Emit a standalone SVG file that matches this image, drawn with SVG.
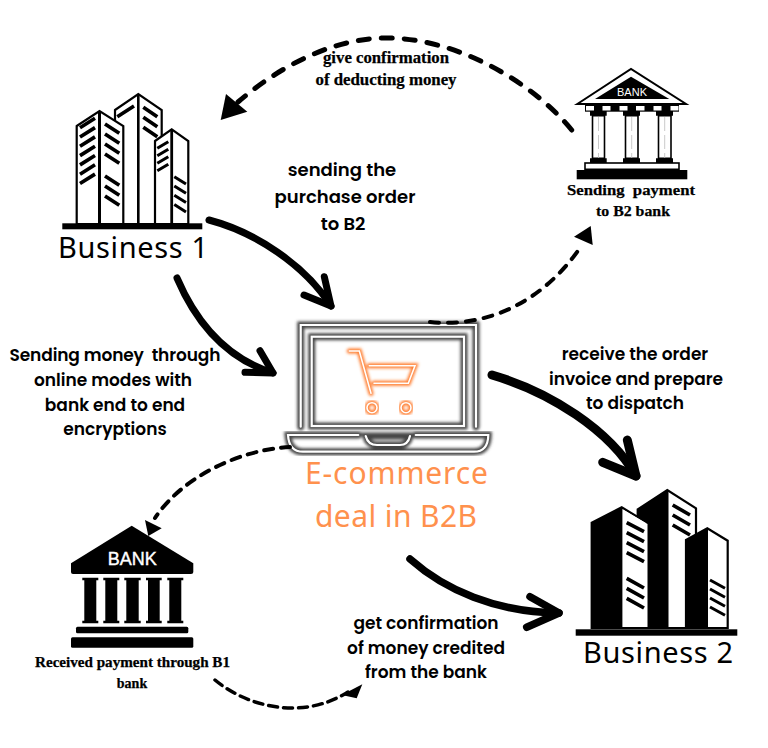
<svg xmlns="http://www.w3.org/2000/svg" width="768" height="748" viewBox="0 0 768 748">
<style>
.bg{fill:#fff}
.k{fill:#000}
.tw{fill:#fff;stroke:#000;stroke-width:2.2;stroke-linejoin:miter}
.win{fill:none;stroke:#000;stroke-width:3.7}
.win2{fill:none;stroke:#000;stroke-width:3}
.lbl{font-family:"Poppins","Inter","Liberation Sans",sans-serif;font-weight:600;font-size:17px;fill:#000;text-anchor:middle}
.lbl2{font-size:18px}
.ser{font-family:"Liberation Serif",serif;font-weight:700;fill:#000;stroke:#000;stroke-width:.25;text-anchor:middle}
.big{font-family:"Noto Sans","Open Sans",sans-serif;font-weight:400;font-size:29px;fill:#000;text-anchor:middle}
.org{fill:#ff914d;font-size:30px}
.cs{fill:none;stroke:#000;stroke-linecap:round;stroke-linejoin:round}
.glow{fill:none;stroke:#444;stroke-width:7;stroke-linecap:round;filter:url(#blur)}
.neon{fill:none;stroke:#fff;stroke-width:2.2;stroke-linecap:round}
.glowo{fill:none;stroke:#ff7a2a;stroke-width:5;stroke-linecap:round;filter:url(#blur)}
.neono{fill:none;stroke:#fff;stroke-width:1.6;stroke-linecap:round}
</style>
<defs>
<filter id="blur" x="-20%" y="-20%" width="140%" height="140%"><feGaussianBlur stdDeviation="1.5"/></filter>
</defs>
<rect class="bg" width="768" height="748"/>

<g id="business1">
<path class="tw" d="M115,110 L138.3,94 L161.7,110 V224 H115 Z"/>
<path class="k" d="M137,95 h2.6 V224 h-2.6 Z"/>
<path class="tw" d="M76.7,126 L99.5,111 L123.3,126 V224 H76.7 Z"/>
<path class="k" d="M98,111 h3 V224 h-3 Z"/>
<path class="tw" d="M155,141 L171.7,129.3 L188.3,141 V224 H155 Z"/>
<path class="k" d="M170.3,130 h2.8 V224 h-2.8 Z"/>
<path class="win" d="M80,127.7 L95,118.3 M80,137 L95,127.6 M80,146.3 L95,136.9 M80,155.6 L95,146.2 M80,164.9 L95,155.5 M80,174.2 L95,164.8 M80,183.5 L95,174.1"/>
<path class="win" d="M105,124 L119.3,133.3 M105,134 L119.3,143.3 M105,144 L119.3,153.3 M105,154 L119.3,163.3 M105,176 L119.3,185.3 M105,186 L119.3,195.3 M105,196 L119.3,205.3"/>
<path class="win" d="M117.3,116.7 L134,106 M143.3,107.3 L157.3,116.7 M143.3,117.3 L157.3,126.7 M143.3,127.3 L157.3,136.7"/>
<path class="win2" d="M157.3,148.3 L168.3,141.7 M157.3,155.8 L168.3,149.2 M157.3,163.3 L168.3,156.7 M157.3,170.8 L168.3,164.2"/>
<path class="win2" d="M174.3,176.7 L186,184 M174.3,186 L186,193.3 M174.3,195.3 L186,202.6 M174.3,204.6 L186,211.9"/>
<rect class="k" x="62.3" y="223.3" width="140" height="6"/>
<text class="big" x="133" y="258" textLength="150">Business 1</text>
</g>

<g id="bank-b2">
<path fill="#fff" stroke="#000" stroke-width="2" d="M577.3,104 L631,69 L686,104 Z"/>
<path class="k" d="M595,99 L631,76.7 L669.3,99 Z"/>
<text x="632" y="96" font-family="Liberation Sans,sans-serif" font-size="11" fill="#fff" text-anchor="middle">BANK</text>
<rect class="k" x="585" y="105" width="94" height="6.7"/>
<path fill="#fff" d="M586,106 h8 v4.5 h-8 Z M602.5,106 h8 v4.5 h-8 Z M619.5,106 h8 v4.5 h-8 Z M636,106 h8.5 v4.5 h-8.5 Z M653.5,106 h8 v4.5 h-8 Z M670.5,106 h8 v4.5 h-8 Z"/>
<path class="k" d="M590,111 h16.7 v4.7 h-16.7 Z M623,111 h17 v4.7 h-17 Z M656,111 h17 v4.7 h-17 Z M590,158.3 h16.7 v4.7 h-16.7 Z M623,158.3 h17 v4.7 h-17 Z M656,158.3 h17 v4.7 h-17 Z"/>
<path fill="#fff" stroke="#000" stroke-width="1.6" d="M592.5,115.7 h12 v42.6 h-12 Z M625.5,115.7 h12.5 v42.6 h-12.5 Z M658.5,115.7 h12.5 v42.6 h-12.5 Z"/>
<path fill="none" stroke="#bbb" stroke-width="0.8" stroke-dasharray="14 4" d="M598.5,117 V158 M631.7,117 V158 M664.7,117 V158"/>
<rect fill="#fff" stroke="#000" stroke-width="1.6" x="585" y="163" width="94" height="6.3"/>
<rect class="k" x="576.7" y="170" width="110.6" height="9.3"/>
<text class="ser" x="631" y="195" font-size="15.5" textLength="128" lengthAdjust="spacingAndGlyphs">Sending&#160; payment</text>
<text class="ser" x="633" y="216" font-size="15.5" textLength="74" lengthAdjust="spacingAndGlyphs">to B2 bank</text>
</g>

<g id="laptop">
<path class="glow" d="M300.7,426.7 V325 H476 V426.7"/>
<rect class="glow" x="311.7" y="336.7" width="152.3" height="89.3"/>
<path class="glow" d="M358.3,435 H288 Q289,451.7 303,451.7 H474 Q488,451.7 488.3,435 H415.7 M365.7,436 Q368,445 377,445 H400 Q408,445 410,436 Z"/>
<path class="neon" d="M300.7,426.7 V325 H476 V426.7"/>
<rect class="neon" x="311.7" y="336.7" width="152.3" height="89.3"/>
<path class="neon" d="M358.3,435 H288 Q289,451.7 303,451.7 H474 Q488,451.7 488.3,435 H415.7 M365.7,436 Q368,445 377,445 H400 Q408,445 410,436"/>
<path class="glowo" d="M349.3,351 H359.3 L371,393.3 M369.3,365.7 H415 L408.3,383.3 H374"/>
<circle class="glowo" cx="372" cy="407.7" r="5"/>
<circle class="glowo" cx="406" cy="407.7" r="5"/>
<path class="neono" d="M349.3,351 H359.3 L371,393.3 M369.3,365.7 H415 L408.3,383.3 H374"/>
<circle class="neono" cx="372" cy="407.7" r="5"/>
<circle class="neono" cx="406" cy="407.7" r="5"/>
<text class="big org" x="396.5" y="484" textLength="183">E-commerce</text>
<text class="big org" x="396" y="527" textLength="162">deal in B2B</text>
</g>

<g id="bank-b1">
<path class="k" d="M71,563.3 L131.7,525.7 L193.3,563.3 V572 Q193.3,574 191,574 H73 Q71,574 71,572 Z"/>
<text x="132.3" y="565" font-family="Liberation Sans,sans-serif" font-size="18" fill="#fff" stroke="#fff" stroke-width=".4" text-anchor="middle">BANK</text>
<path class="k" d="M82.3,577.7 h16 v2.5 h-2 v40.6 h2 v2.5 h-16 v-2.5 h2 v-40.6 h-2 Z M103.3,577.7 h16 v2.5 h-2 v40.6 h2 v2.5 h-16 v-2.5 h2 v-40.6 h-2 Z M124.3,577.7 h16.4 v2.5 h-2 v40.6 h2 v2.5 h-16.4 v-2.5 h2 v-40.6 h-2 Z M146,577.7 h15.7 v2.5 h-2 v40.6 h2 v2.5 h-15.7 v-2.5 h2 v-40.6 h-2 Z M167.3,577.7 h16 v2.5 h-2 v40.6 h2 v2.5 h-16 v-2.5 h2 v-40.6 h-2 Z"/>
<rect class="k" x="76" y="626.7" width="112.3" height="6.6" rx="1.5"/>
<rect class="k" x="71" y="637.3" width="122.3" height="10.4" rx="1.5"/>
<text class="ser" x="132.5" y="667" font-size="14" textLength="195" lengthAdjust="spacingAndGlyphs">Received payment through B1</text>
<text class="ser" x="132" y="688" font-size="14">bank</text>
</g>

<g id="business2">
<path class="tw" d="M637.7,509.3 L667.3,490 L696,508.3 V628 H637.7 Z"/>
<path class="k" d="M637.7,509.3 L667.3,490 L668.5,491 V628 H637.7 Z"/>
<path class="tw" d="M591.7,522.7 L621.7,507.3 L648.3,523.3 V628 H591.7 Z"/>
<path class="k" d="M591.7,522.7 L621.7,507.3 L622.5,508 V628 H591.7 Z"/>
<path class="k" d="M646,523 H668 V628 H646 Z"/>
<path fill="#fff" d="M622.8,509.5 L647.5,524 V627 H622.8 Z"/>
<path class="tw" d="M686,540 L707.3,528.3 L727.7,540.7 V628 H686 Z"/>
<path class="k" d="M686,540 L707.3,528.3 L708,529 V628 H686 Z"/>
<path class="win" d="M626.7,522.7 L644,531.7 M626.7,532.7 L644,541.7 M626.7,542.7 L644,551.7 M626.7,552.7 L644,561.7 M626.7,578.3 L644,588 M626.7,588.3 L644,598 M626.7,598.3 L644,608"/>
<path class="win" d="M672.7,505 L690,515 M672.7,515 L690,525 M672.7,525 L690,535"/>
<path class="win2" d="M710,580 L725,588.3 M710,589 L725,597.3 M710,598 L725,606.3 M710,607 L725,615.3"/>
<rect class="k" x="575.7" y="629.3" width="161.6" height="6.4"/>
<text class="big" x="658" y="663" textLength="150">Business 2</text>
</g>

<g id="labels">
<text class="ser" x="386" y="63" font-size="16" textLength="126" lengthAdjust="spacingAndGlyphs">give confirmation</text>
<text class="ser" x="386" y="85" font-size="16" textLength="141" lengthAdjust="spacingAndGlyphs">of deducting money</text>
<text class="lbl lbl2" x="342" y="176">sending the</text>
<text class="lbl lbl2" x="345" y="203">purchase order</text>
<text class="lbl lbl2" x="343" y="230">to B2</text>
<text class="lbl" x="115" y="361" textLength="211">Sending money&#160; through</text>
<text class="lbl" x="113" y="386">online modes with</text>
<text class="lbl" x="115" y="411">bank end to end</text>
<text class="lbl" x="115" y="435">encryptions</text>
<text class="lbl" x="635" y="360">receive the order</text>
<text class="lbl" x="636" y="385">invoice and prepare</text>
<text class="lbl" x="635" y="409">to dispatch</text>
<text class="lbl" x="426" y="629">get confirmation</text>
<text class="lbl" x="426" y="654">of money credited</text>
<text class="lbl" x="426" y="678">from the bank</text>
</g>

<g id="connectors">
<path class="cs" stroke-width="5" stroke-dasharray="11 12" d="M571.7,130 C535,85 460,38 386,38 C330,38 275,70 238,102"/>
<polygon class="k" points="220.7,120 226,94 247.3,111.7"/>
<path class="cs" stroke-width="7" d="M209,220 C255,232 305,265 331,306"/>
<path class="cs" stroke-width="7" d="M324.3,276.7 L331,306 L304,295"/>
<path class="cs" stroke-width="7" d="M177,278 C195,320 225,358 273,373"/>
<path class="cs" stroke-width="7" d="M260,350.7 L273,373 L245,372.3"/>
<path class="cs" stroke-width="4" stroke-dasharray="9 9" d="M430,322 C490,328 545,300 582,245"/>
<polygon class="k" points="590.7,226 574,236.7 592.7,245"/>
<path class="cs" stroke-width="9" d="M492,375 C550,392 610,430 636,476"/>
<path class="cs" stroke-width="9" d="M627.3,440 L636,476 L602.7,462.3"/>
<path class="cs" stroke-width="4" stroke-dasharray="9 8" d="M290,447 C235,450 180,480 155,518"/>
<polygon class="k" points="148.3,536 145,520 161.7,528.3"/>
<path class="cs" stroke-width="7.5" d="M410,559 C445,590 495,612 559,613"/>
<path class="cs" stroke-width="7.5" d="M530,596.7 L559,613 L526.7,627.3"/>
<path class="cs" stroke-width="3.5" stroke-dasharray="9 6" d="M215,680 C245,705 300,722 348,692"/>
<polygon class="k" points="362.3,684.3 341.7,695 356.7,698.3"/>
</g>
</svg>
